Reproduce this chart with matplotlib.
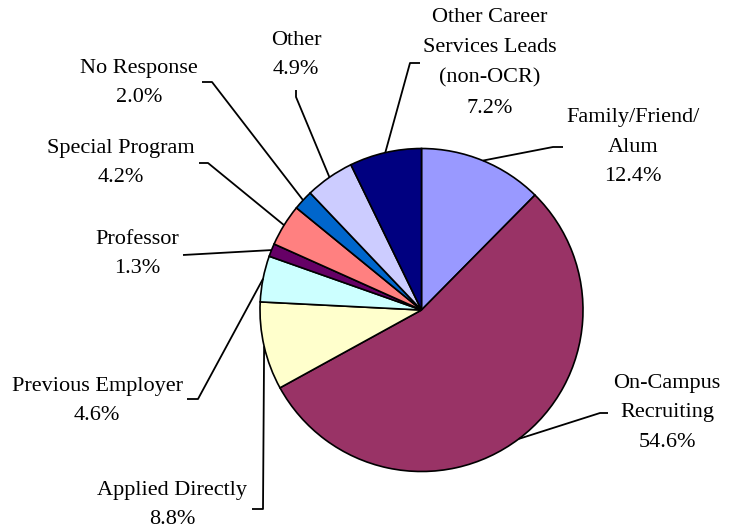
import numpy as np
import matplotlib
matplotlib.use('Agg')
import matplotlib.pyplot as plt

# ############################
###### Chart data ###########
############################
labels = ["Family/Friend/\nAlum", "On-Campus\nRecruiting", "Applied Directly",
          "Previous Employer", "Professor", "Special Program", "No Response",
          "Other", "Other Career\nServices Leads\n(non-OCR)"]
shares = [12.4, 54.6, 8.8, 4.6, 1.3, 4.2, 2.0, 4.9, 7.2]
colors = ["#9999FF", "#993366", "#FFFFCC", "#CCFFFF", "#660066",
          "#FF8080", "#0066CC", "#CCCCFF", "#000080"]

# ############################
###### Layout (pixels) ######
############################
W, H = 733, 531
CENTER = (421.5, 310)
RADIUS = 161.5
# text centre and leader elbow for each slice, in pixel coords (y down)
label_xy = [(633, 147), (667, 413), (172, 505), (97, 401), (137, 254),
            (121, 163), (139, 83), (296, 55), (490, 63)]
elbow_xy = [(553, 147), (600, 413), (263, 509), (198, 399), None,
            (208, 163), (212, 82), (296, 97), (410, 63)]
end_xy = [(563, 147), (608, 413), (252, 509), (187, 399), (183, 255),
          (199, 163), (202, 82), (296, 90), (420, 63)]

def px(p):
    return (p[0], H - p[1])

plt.rcParams['font.family'] = ['Liberation Serif', 'DejaVu Serif']

fig = plt.figure(figsize=(W / 100, H / 100), dpi=100)
ax = fig.add_axes([0, 0, 1, 1])

wedges, _ = ax.pie(shares, colors=colors, startangle=90, counterclock=False,
                   center=px(CENTER), radius=RADIUS,
                   wedgeprops=dict(edgecolor='black', linewidth=1.2))
ax.set_xlim(0, W)
ax.set_ylim(0, H)
ax.set_aspect('equal')
ax.axis('off')

for w, lab, val, txy, exy, nxy in zip(wedges, labels, shares, label_xy,
                                       elbow_xy, end_xy):
    mid = np.deg2rad((w.theta1 + w.theta2) / 2)
    cx, cy = w.center
    start = (cx + w.r * np.cos(mid), cy + w.r * np.sin(mid))
    pts = [start]
    if exy is not None:
        pts.append(px(exy))
    pts.append(px(nxy))
    xs, ys = zip(*pts)
    ax.plot(xs, ys, color='black', linewidth=1.3, solid_capstyle='butt')
    ax.text(*px(txy), "%s\n%.1f%%" % (lab, val), ha='center', va='center',
            multialignment='center', fontsize=16, linespacing=1.78)

fig.savefig("out.png", dpi=100)
